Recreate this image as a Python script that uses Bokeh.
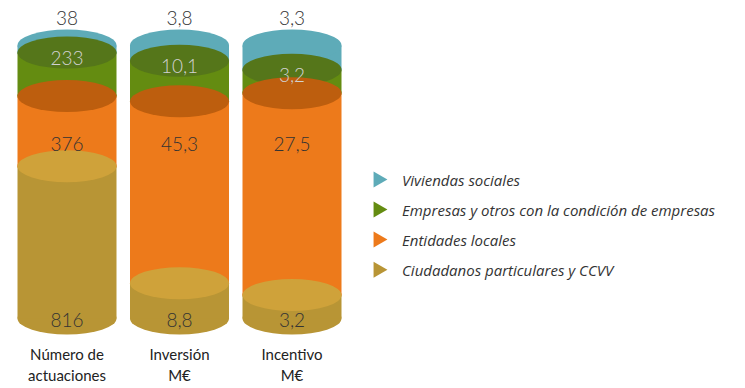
from bokeh.plotting import figure
from bokeh.models import ColumnDataSource, Range1d, FixedTicker
from bokeh.core.properties import value
from bokeh.embed import file_html
from bokeh.resources import INLINE
import math

# ---------------- data ----------------
categories = ["Número de\nactuaciones", "Inversión\nM€", "Incentivo\nM€"]
series_names = ["Viviendas sociales",
                "Empresas y otros con la condición de empresas",
                "Entidades locales",
                "Ciudadanos particulares y CCVV"]
viviendas = [38, 3.8, 3.3]
empresas = [233, 10.1, 3.2]
entidades = [376, 45.3, 27.5]
ciudadanos = [816, 8.8, 3.2]

# ---------------- style ----------------
side_colors = ["#5eabb8", "#648c11", "#ed7a1b", "#b89535"]
top_colors = ["#5eabb8", "#55761a", "#bd5e0e", "#cfa23a"]
label_colors = ["#333333", "#d2d2d2", "#333333", "#333333"]
# label rule per series: (mode, offset)
label_rules = [("above", 0.099), ("top", -0.02), ("level", 0.641), ("level", -0.007)]
FONT = "Lato"
LABEL_FONT = "Lato Light"
LEGEND_FONT = "Open Sans"
BAR_W = 0.88
ELL_H = 32  # screen px

series_values = [viviendas, empresas, entidades, ciudadanos]  # top -> bottom
n = len(categories)
xs = list(range(n))
totals = [sum(s[i] for s in series_values) for i in range(n)]

# stacked fractions, bottom -> top
bottoms = {}
tops = {}
running = [0.0] * n
for k in reversed(range(len(series_values))):
    vals = series_values[k]
    b = list(running)
    t = [running[i] + vals[i] / totals[i] for i in range(n)]
    bottoms[k] = b
    tops[k] = t
    running = t

p = figure(frame_width=729, frame_height=332,
           x_range=Range1d(-0.52, 5.96), y_range=Range1d(-0.0806, 1.1355),
           output_backend="svg", toolbar_location=None, y_axis_location=None,
           min_border_left=8, min_border_right=0, min_border_top=8, min_border_bottom=0)
p.grid.visible = False
p.outline_line_color = None
p.background_fill_color = "white"
p.border_fill_color = "white"

# draw from the top series down so lower segments overlap upper ones
for k in range(len(series_values)):
    src = ColumnDataSource(dict(x=xs, bottom=bottoms[k], top=tops[k]))
    p.ellipse(x="x", y="bottom", width=BAR_W, height=ELL_H, height_units="screen",
              source=src, fill_color=side_colors[k], line_color=None)
    p.vbar(x="x", bottom="bottom", top="top", width=BAR_W, source=src,
           fill_color=side_colors[k], line_color=None)
    p.ellipse(x="x", y="top", width=BAR_W, height=ELL_H, height_units="screen",
              source=src, fill_color=top_colors[k], line_color=None)

def fmt(v):
    s = ("%g" % v)
    return s.replace(".", ",")

for k in range(len(series_values)):
    mode, off = label_rules[k]
    if mode in ("above", "top"):
        ly = [tops[k][i] + off for i in range(n)]
    else:
        ly = [off] * n
    src = ColumnDataSource(dict(x=xs, y=ly, t=[fmt(v) for v in series_values[k]]))
    p.text(x="x", y="y", text="t", source=src, text_align="center", text_baseline="middle",
           text_font=value(LABEL_FONT), text_font_size="19px", text_color=label_colors[k])

# legend (right-pointing triangles)
leg_x = 2.766
leg_tx = 2.978
leg_y0 = 0.509
leg_dy = 0.110
leg_y = [leg_y0 - i * leg_dy for i in range(len(series_names))]
lsrc = ColumnDataSource(dict(x=[leg_x] * len(series_names), tx=[leg_tx] * len(series_names),
                             y=leg_y, c=side_colors, t=series_names))
p.scatter(x="x", y="y", marker="triangle", size=16, angle=-math.pi / 2,
          fill_color="c", line_color=None, source=lsrc)
p.text(x="tx", y="y", text="t", source=lsrc, text_align="left", text_baseline="middle",
       text_font=value(LEGEND_FONT), text_font_size="15px", text_font_style="italic",
       text_color="#333333")

ax = p.xaxis[0]
ax.ticker = FixedTicker(ticks=xs)
ax.major_label_overrides = {i: categories[i] for i in xs}
ax.axis_line_color = None
ax.major_tick_line_color = None
ax.minor_tick_line_color = None
ax.major_tick_out = 0
ax.major_label_standoff = 4
ax.major_label_text_font = FONT
ax.major_label_text_font_size = "15px"
ax.major_label_text_color = "#222222"

open("out.html", "w").write(file_html(p, INLINE))
